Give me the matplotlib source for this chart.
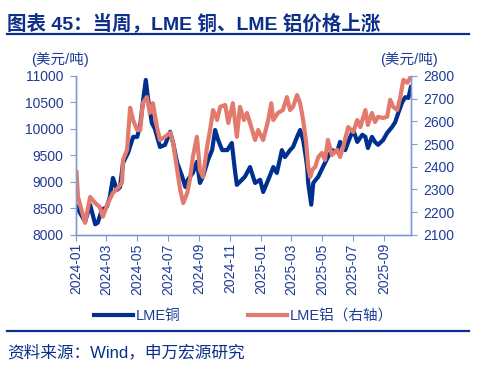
import matplotlib
matplotlib.use("Agg")
import matplotlib.pyplot as plt
import matplotlib.dates as mdates
import pandas as pd

plt.rcParams['font.family'] = ['Liberation Sans', 'Noto Sans CJK SC', 'DejaVu Sans']

# LME copper (USD/t)
cu_dates = ['2024-01-02', '2024-01-09', '2024-01-19', '2024-01-29', '2024-02-08', '2024-02-13',
            '2024-02-21', '2024-03-02', '2024-03-08', '2024-03-14', '2024-03-22', '2024-03-28',
            '2024-04-03', '2024-04-13', '2024-04-23', '2024-05-01', '2024-05-07', '2024-05-12',
            '2024-05-18', '2024-05-22', '2024-05-30', '2024-06-05', '2024-06-15', '2024-06-25',
            '2024-07-05', '2024-07-11', '2024-07-19', '2024-07-29', '2024-08-04', '2024-08-09',
            '2024-08-19', '2024-08-27', '2024-09-02', '2024-09-08', '2024-09-18', '2024-09-26',
            '2024-10-02', '2024-10-08', '2024-10-16', '2024-10-26', '2024-11-04', '2024-11-10',
            '2024-11-14', '2024-11-24', '2024-11-30', '2024-12-10', '2024-12-20', '2024-12-30',
            '2025-01-05', '2025-01-15', '2025-01-25', '2025-02-01', '2025-02-11', '2025-02-17',
            '2025-02-27', '2025-03-05', '2025-03-13', '2025-03-19', '2025-03-25', '2025-03-29',
            '2025-04-02', '2025-04-04', '2025-04-10', '2025-04-14', '2025-04-24', '2025-05-03',
            '2025-05-13', '2025-05-21', '2025-05-31', '2025-06-06', '2025-06-16', '2025-06-26',
            '2025-07-02', '2025-07-10', '2025-07-20', '2025-07-26', '2025-07-31', '2025-08-08',
            '2025-08-14', '2025-08-20', '2025-08-30', '2025-09-07', '2025-09-17', '2025-09-23',
            '2025-09-29', '2025-10-07', '2025-10-13', '2025-10-19', '2025-10-24']
cu_vals = [8534, 8415, 8250, 8566, 8200, 8230,
           8470, 8530, 8720, 9075, 8850, 8900,
           9360, 9550, 9850, 9850, 10075, 10490,
           10925, 10600, 10110, 10000, 9660, 9700,
           9945, 9735, 9360, 9100, 8905, 9040,
           9170, 9380, 8980, 9100, 9415, 9600,
           9980, 9790, 9600, 9600, 9735, 9230,
           8945, 9040, 9100, 9280, 8980, 9040,
           8810, 9040, 9280, 9170, 9600, 9470,
           9600, 9660, 9850, 9980, 9790, 9550,
           9280, 8980, 8570, 8980, 9100, 9280,
           9470, 9600, 9565, 9755, 9600, 9850,
           9980, 9755, 9890, 9850, 9640, 9850,
           9755, 9700, 9790, 9925, 10040, 10130,
           10300, 10510, 10600, 10585, 10790]

# LME aluminium (USD/t, right axis)
al_dates = ['2024-01-02', '2024-01-05', '2024-01-19', '2024-01-29', '2024-02-08', '2024-02-17',
            '2024-02-23', '2024-03-04', '2024-03-14', '2024-03-24', '2024-04-01', '2024-04-03',
            '2024-04-11', '2024-04-17', '2024-04-23', '2024-05-01', '2024-05-07', '2024-05-12',
            '2024-05-20', '2024-05-26', '2024-06-01', '2024-06-09', '2024-06-15', '2024-06-25',
            '2024-07-05', '2024-07-11', '2024-07-19', '2024-07-25', '2024-07-31', '2024-08-08',
            '2024-08-13', '2024-08-19', '2024-08-27', '2024-09-02', '2024-09-08', '2024-09-16',
            '2024-09-22', '2024-09-28', '2024-10-06', '2024-10-12', '2024-10-22', '2024-10-28',
            '2024-11-06', '2024-11-14', '2024-11-20', '2024-11-28', '2024-12-04', '2024-12-10',
            '2024-12-20', '2024-12-26', '2025-01-05', '2025-01-15', '2025-01-21', '2025-01-25',
            '2025-02-03', '2025-02-13', '2025-02-21', '2025-02-27', '2025-03-05', '2025-03-13',
            '2025-03-19', '2025-03-25', '2025-03-31', '2025-04-04', '2025-04-08', '2025-04-12',
            '2025-04-18', '2025-04-24', '2025-05-01', '2025-05-07', '2025-05-13', '2025-05-21',
            '2025-05-31', '2025-06-06', '2025-06-12', '2025-06-22', '2025-07-02', '2025-07-10',
            '2025-07-16', '2025-07-26', '2025-07-31', '2025-08-08', '2025-08-14', '2025-08-20',
            '2025-08-30', '2025-09-07', '2025-09-13', '2025-09-19', '2025-09-27', '2025-10-03',
            '2025-10-09', '2025-10-17', '2025-10-22']
al_vals = [2377, 2267, 2153, 2267, 2240, 2223,
           2180, 2240, 2285, 2307, 2330, 2430,
           2475, 2660, 2605, 2562, 2562, 2680,
           2707, 2637, 2680, 2575, 2518, 2532,
           2550, 2505, 2386, 2298, 2240, 2285,
           2342, 2443, 2532, 2386, 2355, 2487,
           2562, 2650, 2606, 2664, 2672, 2593,
           2680, 2532, 2664, 2606, 2637, 2593,
           2518, 2562, 2518, 2606, 2680, 2606,
           2637, 2650, 2707, 2650, 2664, 2716,
           2680, 2606, 2505, 2400, 2355, 2386,
           2400, 2443, 2461, 2430, 2518, 2452,
           2475, 2443, 2487, 2575, 2553, 2606,
           2575, 2650, 2584, 2637, 2597, 2620,
           2615, 2620, 2695, 2664, 2650, 2707,
           2783, 2770, 2790]

title = '图表 45：当周，LME 铜、LME 铝价格上涨'
source = '资料来源：Wind，申万宏源研究'

navy = '#0B2F8A'
blue_line = '#00308F'
pink_line = '#E27B6D'
spine_c = '#7F9AD6'
tick_c = '#1F3C98'

fig = plt.figure(figsize=(4.84, 3.67), dpi=100)
fig.text(0.015, 0.937, title, fontsize=14, fontweight='bold', color=navy, va='center')
fig.add_artist(plt.Line2D([0.015, 0.969], [0.907, 0.907], color=navy, lw=1.6))
fig.add_artist(plt.Line2D([0.015, 0.969], [0.098, 0.098], color=navy, lw=1.6))
fig.text(0.015, 0.041, source, fontsize=12, color=navy, va='center')

ax = fig.add_axes([0.157, 0.36, 0.692, 0.433])
ax2 = ax.twinx()

cu_x = pd.to_datetime(cu_dates)
al_x = pd.to_datetime(al_dates)
ax.plot(cu_x, cu_vals, color=blue_line, lw=3.0, label='LME铜', solid_joinstyle='round')
ax2.plot(al_x, al_vals, color=pink_line, lw=3.0, label='LME铝（右轴）', solid_joinstyle='round')

ax.set_xlim(pd.Timestamp('2024-01-01'), pd.Timestamp('2025-10-24'))
ax.set_ylim(8000, 11000)
ax.set_yticks(range(8000, 11001, 500))
ax2.set_ylim(2100, 2800)
ax2.set_yticks(range(2100, 2801, 100))

ax.xaxis.set_major_locator(mdates.MonthLocator(bymonth=[1, 3, 5, 7, 9, 11]))
ax.xaxis.set_major_formatter(mdates.DateFormatter('%Y-%m'))

for a in (ax, ax2):
    a.spines['top'].set_visible(False)
    for s in ('left', 'right', 'bottom'):
        a.spines[s].set_color(spine_c)
        a.spines[s].set_linewidth(1.0)
    a.tick_params(colors=spine_c, labelcolor=tick_c, labelsize=10, length=4, width=0.8)
ax.tick_params(axis='x', rotation=90, pad=2)
ax.tick_params(axis='y', pad=5)
ax2.tick_params(axis='y', pad=5)

fig.text(0.064, 0.838, '(美元/吨)', fontsize=10.5, color=tick_c, va='center')
fig.text(0.785, 0.838, '(美元/吨)', fontsize=10.5, color=tick_c, va='center')

h1, l1 = ax.get_legend_handles_labels()
h2, l2 = ax2.get_legend_handles_labels()
fig.legend(h1 + h2, l1 + l2, loc='center', bbox_to_anchor=(0.503, 0.14), ncol=2,
           frameon=False, fontsize=10.5, handlelength=2.7, columnspacing=4.6,
           handletextpad=0.2, labelcolor=tick_c)

fig.savefig('out.png', dpi=100)
